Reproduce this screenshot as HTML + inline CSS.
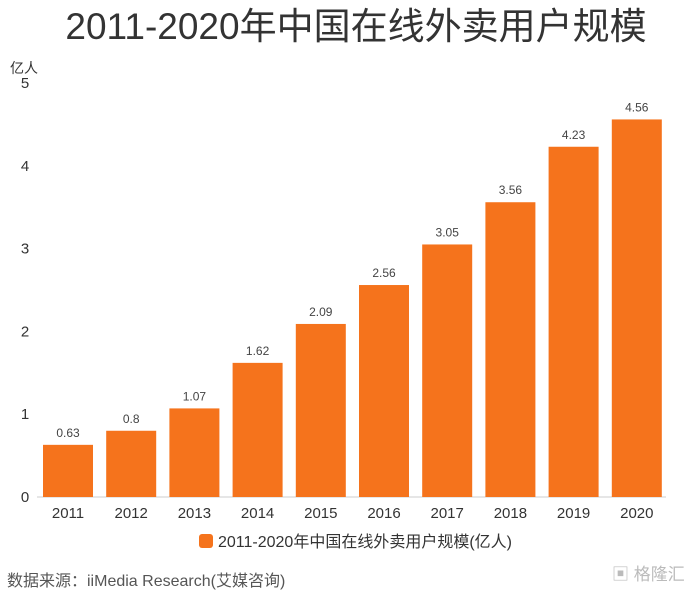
<!DOCTYPE html>
<html><head><meta charset="utf-8">
<style>
body{margin:0;background:#fff;width:686px;height:594px;overflow:hidden;font-family:"Liberation Sans","Noto Sans CJK SC",sans-serif;}
svg text{font-family:"Liberation Sans","Noto Sans CJK SC",sans-serif;}
</style></head>
<body>
<svg id="chart" width="686" height="594" viewBox="0 0 686 594" xmlns="http://www.w3.org/2000/svg">
<text x="356" y="39" text-anchor="middle" font-size="37" fill="#333">2011-2020年中国在线外卖用户规模</text>
<text x="10" y="73" font-size="14" fill="#333">亿人</text>
<line x1="37" y1="497" x2="666" y2="497" stroke="#ccc" stroke-width="1"/>
<g id="bars"></g>
<rect x="199" y="534" width="14" height="14" rx="3" fill="#f5731c"/>
<text x="218" y="547" font-size="16" fill="#333">2011-2020年中国在线外卖用户规模(亿人)</text>
<text x="7" y="586" font-size="16" fill="#555">数据来源：iiMedia Research(艾媒咨询)</text>
<text x="612" y="580" font-size="17" fill="#bbb">▣ 格隆汇</text>
</svg>
<script>
const categories = ["2011","2012","2013","2014","2015","2016","2017","2018","2019","2020"];
const values = [0.63,0.8,1.07,1.62,2.09,2.56,3.05,3.56,4.23,4.56];
const valueLabels = ["0.63","0.8","1.07","1.62","2.09","2.56","3.05","3.56","4.23","4.56"];
const yTicks = [0,1,2,3,4,5];
const svg = document.getElementById('chart');
const g = document.getElementById('bars');
const NS = "http://www.w3.org/2000/svg";
const y = v => 497 - v * 82.8;
const xc = i => 68 + i * 63.2;
const bw = 50;
function mk(tag, attrs){const e=document.createElementNS(NS,tag);for(const k in attrs)e.setAttribute(k,attrs[k]);return e;}
yTicks.forEach(t=>{
  const e = mk('text',{x:25,y:y(t)+5,'text-anchor':'middle','font-size':15,fill:'#333'});
  
  
  e.textContent = t; svg.appendChild(e);
});
categories.forEach((c,i)=>{
  const r = mk('rect',{x:xc(i)-bw/2,y:y(values[i]),width:bw,height:497-y(values[i]),fill:'#f5731c'});
  
  
  g.appendChild(r);
  const v = mk('text',{x:xc(i),y:y(values[i])-8,'text-anchor':'middle','font-size':12,fill:'#444'});
  
  
  v.textContent = valueLabels[i]; g.appendChild(v);
  const l = mk('text',{x:xc(i),y:518,'text-anchor':'middle','font-size':15,fill:'#333'});
  
  
  l.textContent = c; g.appendChild(l);
});
</script>
</body></html>
